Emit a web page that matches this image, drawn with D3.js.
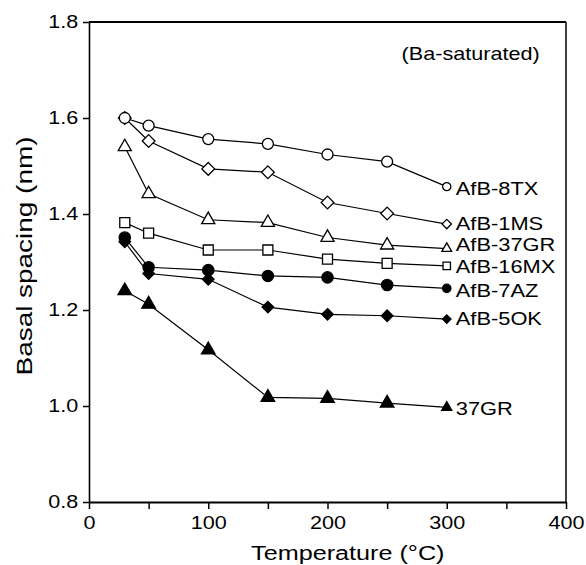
<!DOCTYPE html>
<html>
<head>
<meta charset="utf-8">
<script src="https://cdn.jsdelivr.net/npm/d3@7"></script>
<style>
  body { margin: 0; background: #fff; }
  svg { display: block; font-family: "Liberation Sans", Arial, sans-serif; }
</style>
</head>
<body>
<div id="chart"></div>
<script>
// temperatures (°C) at which basal spacing was measured
const temps = [30, 50, 100, 150, 200, 250, 300];

// basal spacing (nm), one array per sample
const afb8TX  = [1.600, 1.584, 1.556, 1.546, 1.524, 1.509, 1.457];
const afb1MS  = [1.600, 1.552, 1.494, 1.487, 1.424, 1.401, 1.379];
const afb37GR = [1.540, 1.442, 1.388, 1.382, 1.351, 1.335, 1.328];
const afb16MX = [1.382, 1.360, 1.325, 1.325, 1.306, 1.297, 1.292];
const afb7AZ  = [1.351, 1.289, 1.283, 1.271, 1.268, 1.252, 1.245];
const afb5OK  = [1.342, 1.276, 1.264, 1.206, 1.191, 1.188, 1.181];
const gr37    = [1.240, 1.212, 1.117, 1.018, 1.016, 1.006, 0.997];

const seriesNames = ['AfB-8TX', 'AfB-1MS', 'AfB-37GR', 'AfB-16MX', 'AfB-7AZ', 'AfB-5OK', '37GR'];
const seriesValues = [afb8TX, afb1MS, afb37GR, afb16MX, afb7AZ, afb5OK, gr37];

const xTicks = [0, 100, 200, 300, 400];
const xMinorTicks = [50, 150, 250, 350];
const yTicks = [0.8, 1.0, 1.2, 1.4, 1.6, 1.8];

// custom diamond (square turned 45°, same width and height)
const symbolDiamondWide = {
  draw(ctx, size) {
    const r = Math.sqrt(size) / 1.4;
    ctx.moveTo(0, -r); ctx.lineTo(r, 0); ctx.lineTo(0, r); ctx.lineTo(-r, 0); ctx.closePath();
  }
};

const MARKERS = [
  { type: d3.symbolCircle, size: 95, filled: false },
  { type: symbolDiamondWide, size: 80, filled: false },
  { type: d3.symbolTriangle, size: 75, filled: false },
  { type: d3.symbolSquare, size: 100, filled: false },
  { type: d3.symbolCircle, size: 100, filled: true },
  { type: symbolDiamondWide, size: 65, filled: true },
  { type: d3.symbolTriangle, size: 80, filled: true },
];
// small vertical nudges of end labels (px)
const LABEL_DY = [1, -1, -5, 0, 2, -1, 1];

const W = 586, H = 565;
const margin = { top: 22, right: 20, bottom: 63, left: 89 };
const width = W - margin.left - margin.right;
const height = H - margin.top - margin.bottom;
const SX = 1.2; // glyphs in the reference are horizontally wide

const svg = d3.select('#chart').append('svg')
  .attr('width', W).attr('height', H);

const g = svg.append('g')
  .attr('transform', `translate(${margin.left},${margin.top})`);

const x = d3.scaleLinear().domain([0, 400]).range([0, width]);
const y = d3.scaleLinear().domain([0.8, 1.8]).range([height, 0]);

// frame (top and right)
g.append('line').attr('x1', 0).attr('x2', width).attr('y1', 0).attr('y2', 0)
  .attr('stroke', '#000').attr('stroke-width', 2);
g.append('line').attr('x1', width).attr('x2', width).attr('y1', 0).attr('y2', height)
  .attr('stroke', '#000').attr('stroke-width', 1.5);

// x axis
const xAxis = g.append('g')
  .attr('transform', `translate(0,${height})`)
  .call(d3.axisBottom(x).tickValues(xTicks).tickSize(7).tickPadding(7).tickSizeOuter(0)
    .tickFormat(d3.format('d')));
xAxis.select('.domain').attr('stroke-width', 2.2);
xAxis.selectAll('.tick line').attr('stroke-width', 1.5);

g.append('g')
  .attr('transform', `translate(0,${height})`)
  .call(d3.axisBottom(x).tickValues(xMinorTicks).tickSize(7).tickFormat(''))
  .call(s => s.select('.domain').remove())
  .selectAll('.tick line').attr('stroke-width', 1.5);

// y axis
const yAxis = g.append('g')
  .call(d3.axisLeft(y).tickValues(yTicks).tickSize(6).tickPadding(3).tickSizeOuter(0)
    .tickFormat(d3.format('.1f')));
yAxis.select('.domain').attr('stroke-width', 1.6);
yAxis.selectAll('.tick line').attr('stroke-width', 1.5);

svg.selectAll('.tick text')
  .attr('font-size', 18)
  .attr('font-family', '"Liberation Sans", Arial, sans-serif')
  .attr('fill', '#000')
  .attr('transform', `scale(${SX},1)`);

// series lines and markers
const line = d3.line().x((d, i) => x(temps[i])).y(d => y(d));

seriesValues.forEach((vals, si) => {
  g.append('path')
    .datum(vals)
    .attr('fill', 'none')
    .attr('stroke', '#000')
    .attr('stroke-width', 1.2)
    .attr('d', line);
});

// draw markers last so they sit above lines; bottom series first
for (let si = seriesValues.length - 1; si >= 0; si--) {
  const m = MARKERS[si];
  const vals = seriesValues[si];
  g.selectAll(null)
    .data(vals)
    .join('path')
    .attr('transform', (d, i) => `translate(${x(temps[i])},${y(d)})`)
    .attr('d', (d, i) => d3.symbol().type(m.type).size(i === vals.length - 1 ? m.size * 0.55 : m.size)())
    .attr('fill', m.filled ? '#000' : '#fff')
    .attr('stroke', '#000')
    .attr('stroke-width', 1.3);
}

// end labels
seriesNames.forEach((name, si) => {
  const vals = seriesValues[si];
  const last = vals.length - 1;
  g.append('text')
    .attr('transform', `translate(${x(temps[last]) + 9},${y(vals[last]) + LABEL_DY[si]}) scale(1.15,1)`)
    .attr('dominant-baseline', 'central')
    .attr('font-size', 19)
    .attr('fill', '#000')
    .text(name);
});

// annotation
g.append('text')
  .attr('transform', `translate(${x(320)},${38}) scale(${SX},1)`)
  .attr('text-anchor', 'middle')
  .attr('font-size', 18)
  .attr('fill', '#000')
  .text('(Ba-saturated)');

// axis titles
svg.append('text')
  .attr('transform', `translate(${margin.left + x(217)},${560}) scale(${SX},1)`)
  .attr('text-anchor', 'middle')
  .attr('font-size', 21)
  .attr('fill', '#000')
  .text('Temperature (\u00B0C)');

svg.append('text')
  .attr('transform', `translate(${32},${256}) rotate(-90) scale(1.27,1)`)
  .attr('text-anchor', 'middle')
  .attr('font-size', 22)
  .attr('fill', '#000')
  .text('Basal spacing (nm)');
</script>
</body>
</html>
